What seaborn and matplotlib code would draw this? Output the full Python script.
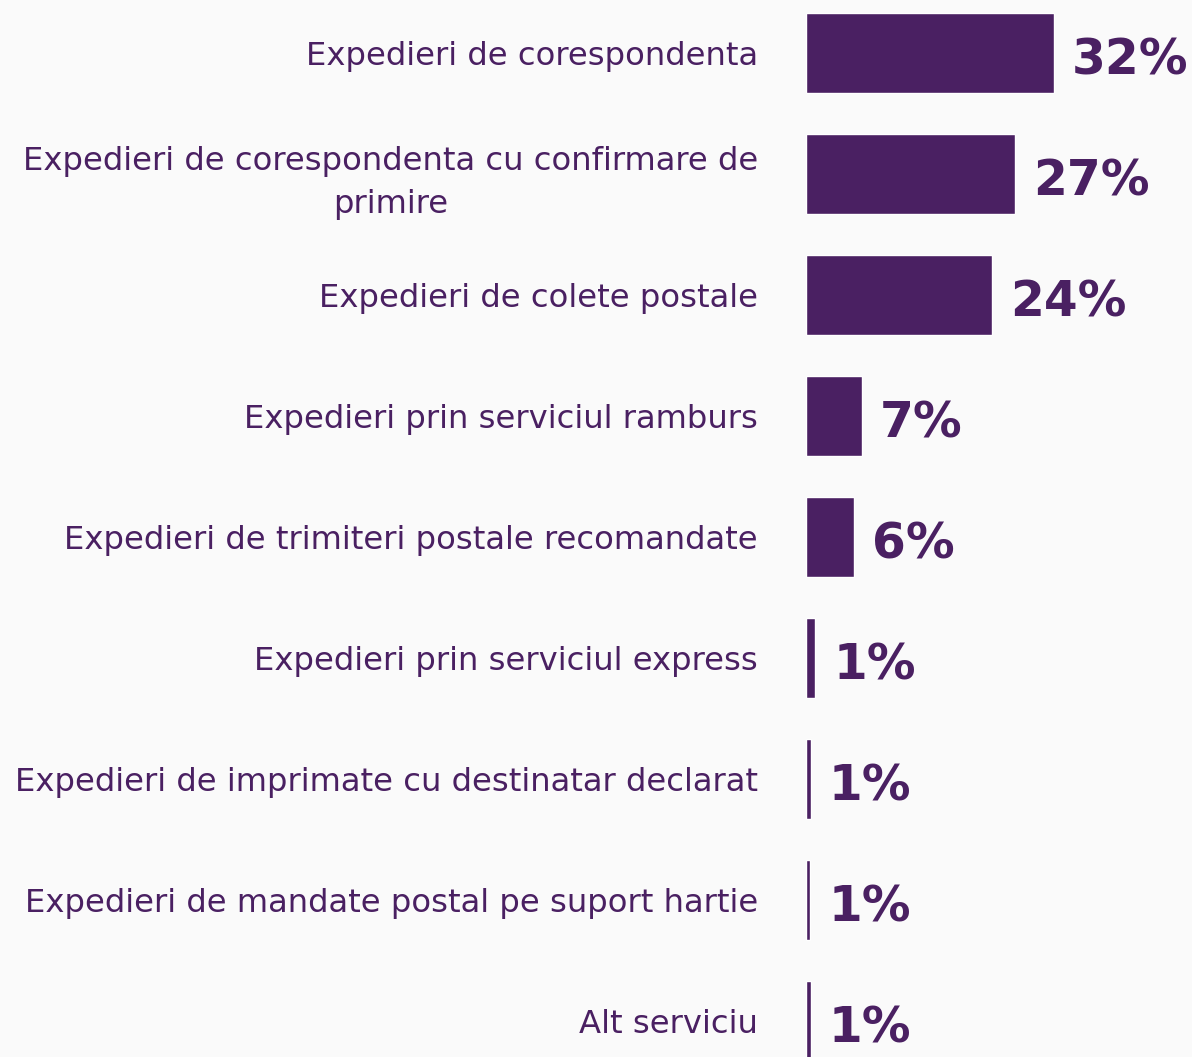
import matplotlib
matplotlib.use("Agg")
import matplotlib.pyplot as plt
import seaborn as sns
import pandas as pd

# data
services = [
    "Expedieri de corespondenta",
    "Expedieri de corespondenta cu confirmare de\nprimire",
    "Expedieri de colete postale",
    "Expedieri prin serviciul ramburs",
    "Expedieri de trimiteri postale recomandate",
    "Expedieri prin serviciul express",
    "Expedieri de imprimate cu destinatar declarat",
    "Expedieri de mandate postal pe suport hartie",
    "Alt serviciu",
]
shares = [32.0, 27.0, 24.0, 7.2, 6.2, 1.2, 0.6, 0.55, 0.65]
shown = ["32%", "27%", "24%", "7%", "6%", "1%", "1%", "1%", "1%"]

df = pd.DataFrame({"service": services, "share": shares})

purple = "#4a2062"
bg = "#fafafa"

sns.set_style("white")
plt.rcParams["font.family"] = ["DejaVu Sans"]

W, H = 1192, 1057
fig = plt.figure(figsize=(W / 100, H / 100), dpi=100, facecolor=bg)
ax = fig.add_axes([806 / W, 0, 1 - 806 / W, 1])
ax.set_facecolor(bg)

sns.barplot(data=df, x="share", y="service", color=purple, width=0.66,
            saturation=1, ax=ax)

# 1% ~ 7.75 px, first row centre 53 px from top, rows 121 px apart
ax.set_xlim(0, (W - 806) / 7.75)
ax.set_ylim((H - 53) / 121, -53 / 121)

for i, (v, s) in enumerate(zip(shares, shown)):
    ax.text(v + 18 / 7.75, i + 0.174, s, va="baseline", ha="left", fontsize=35,
            fontweight="bold", color=purple)

ax.set_xlabel("")
ax.set_ylabel("")
ax.set_xticks([])
ax.tick_params(axis="y", length=0, pad=34.5, labelsize=23.2, labelcolor=purple)
for lab in ax.get_yticklabels():
    lab.set_multialignment("center")
    lab.set_linespacing(1.5)
sns.despine(ax=ax, left=True, bottom=True)

fig.savefig("out.png", dpi=100, facecolor=bg)
